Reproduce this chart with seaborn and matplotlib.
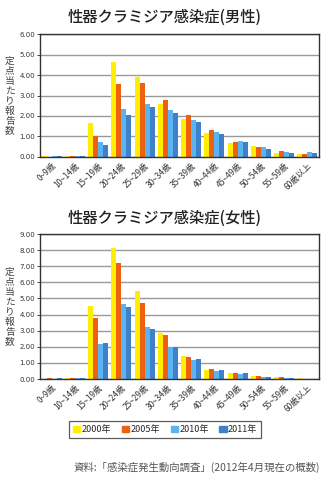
import matplotlib
matplotlib.use("Agg")
import matplotlib.pyplot as plt
import seaborn as sns
import pandas as pd

ages = ["0~9歳", "10~14歳", "15~19歳", "20~24歳", "25~29歳", "30~34歳",
        "35~39歳", "40~44歳", "45~49歳", "50~54歳", "55~59歳", "60歳以上"]
years = ["2000年", "2005年", "2010年", "2011年"]

male_2000 = [0.03, 0.03, 1.68, 4.66, 3.92, 2.59, 1.85, 1.16, 0.67, 0.52, 0.18, 0.13]
male_2005 = [0.01, 0.04, 1.02, 3.57, 3.62, 2.79, 2.05, 1.31, 0.72, 0.48, 0.28, 0.13]
male_2010 = [0.03, 0.04, 0.72, 2.34, 2.59, 2.30, 1.80, 1.21, 0.77, 0.48, 0.23, 0.23]
male_2011 = [0.03, 0.04, 0.57, 2.05, 2.44, 2.15, 1.70, 1.11, 0.72, 0.38, 0.18, 0.18]

female_2000 = [0.03, 0.05, 4.53, 8.14, 5.47, 2.86, 1.43, 0.56, 0.37, 0.19, 0.12, 0.06]
female_2005 = [0.05, 0.05, 3.79, 7.20, 4.72, 2.73, 1.37, 0.62, 0.37, 0.19, 0.12, 0.00]
female_2010 = [0.01, 0.05, 2.17, 4.66, 3.23, 1.99, 1.18, 0.50, 0.31, 0.12, 0.06, 0.00]
female_2011 = [0.04, 0.05, 2.24, 4.47, 3.11, 1.99, 1.24, 0.56, 0.37, 0.12, 0.06, 0.00]

colors = ["#FFEE00", "#EE6010", "#5BB4F2", "#4080C8"]

sns.set_theme(style="white")
plt.rcParams['font.family'] = ['Noto Sans CJK JP', 'DejaVu Sans']


def make_df(series):
    rows = []
    for y, vals in zip(years, series):
        for a, v in zip(ages, vals):
            rows.append({"age": a, "year": y, "value": v})
    return pd.DataFrame(rows)


fig = plt.figure(figsize=(3.3, 4.8), dpi=100)
ax1 = fig.add_axes([0.121, 0.673, 0.846, 0.256])
ax2 = fig.add_axes([0.121, 0.2104, 0.846, 0.302])

panels = [
    (ax1, make_df([male_2000, male_2005, male_2010, male_2011]), 6,
     "性器クラミジア感染症(男性)", 0.963),
    (ax2, make_df([female_2000, female_2005, female_2010, female_2011]), 9,
     "性器クラミジア感染症(女性)", 0.545),
]

for ax, df, ymax, title, ty in panels:
    sns.barplot(data=df, x="age", y="value", hue="year", palette=colors,
                width=0.86, gap=0, ax=ax, legend=False, saturation=1,
                linewidth=0, edgecolor="none")
    ax.set_ylim(0, ymax)
    ax.set_xlim(-0.5, 11.5)
    ax.set_yticks(range(0, ymax + 1))
    ax.set_yticklabels([f"{v:.2f}" for v in range(0, ymax + 1)], fontsize=5,
                       color="#333333", family="DejaVu Sans")
    ax.yaxis.grid(True, color="#999999", linewidth=1.0)
    ax.set_axisbelow(True)
    ax.set_xticks(range(len(ages)))
    ax.set_xticklabels(ages, rotation=45, ha="right", rotation_mode="anchor",
                       fontsize=6, color="#333333")
    ax.tick_params(axis="x", length=0, pad=3)
    ax.tick_params(axis="y", length=2, width=0.6, pad=1.5, left=True)
    ax.set_xlabel("")
    ax.set_ylabel("")
    for s in ax.spines.values():
        s.set_color("#333333")
        s.set_linewidth(1.0)
    fig.text(0.5, ty, title, ha="center", va="center", fontsize=11,
             color="#222222", weight="medium")
    ax.text(-0.108, 0.5, "\n".join("定点当たり報告数"), transform=ax.transAxes,
            ha="center", va="center", fontsize=7, linespacing=1.0,
            color="#444444")

handles = [plt.Rectangle((0, 0), 1, 1, color=c) for c in colors]
leg = fig.legend(handles, years, loc="center", bbox_to_anchor=(0.5, 0.105),
                 ncol=4, fontsize=6.5, frameon=True, fancybox=False,
                 edgecolor="#333333", handlelength=0.8, handleheight=0.8,
                 handletextpad=0.15, columnspacing=1.2, borderpad=0.45)
leg.get_frame().set_linewidth(0.9)

fig.text(0.97, 0.027, "資料:「感染症発生動向調査」(2012年4月現在の概数)",
         ha="right", va="center", fontsize=7.5, color="#555555")

fig.savefig("out.png", dpi=100, facecolor="white")
